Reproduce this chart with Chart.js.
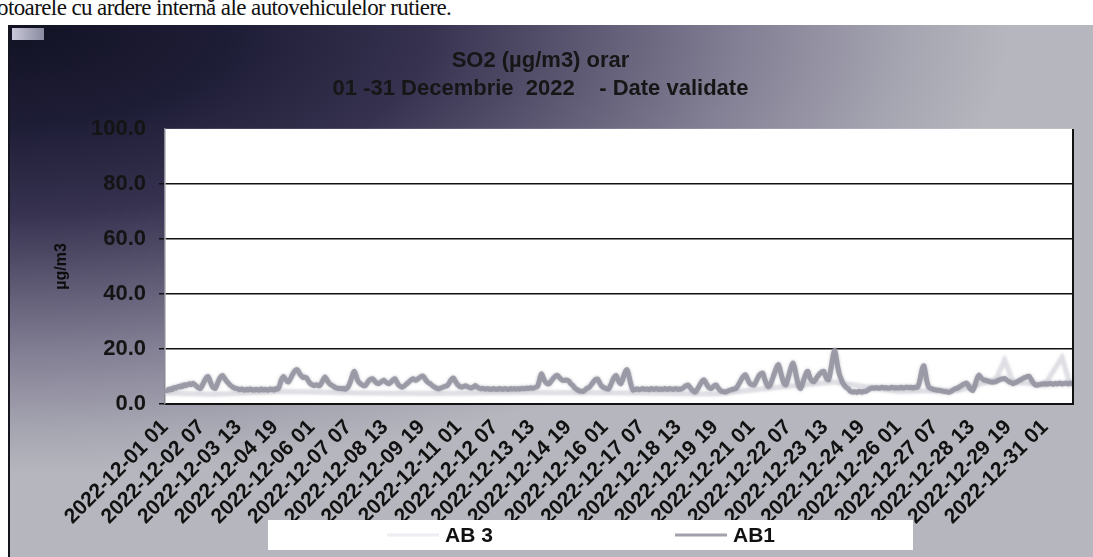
<!DOCTYPE html>
<html>
<head>
<meta charset="utf-8">
<script src="https://cdn.jsdelivr.net/npm/chart.js@4.4.1/dist/chart.umd.min.js"></script>
<style>
  html, body { margin: 0; padding: 0; background: #fff; }
  #page { position: relative; width: 1093px; height: 557px; overflow: hidden; }
  #topText {
    position: absolute; left: -3px; top: -4px;
    font-family: "Liberation Serif", "Times New Roman", serif;
    font-size: 23px; line-height: 24px; letter-spacing: -0.6px; color: #111; white-space: nowrap;
  }
  #frame {
    position: absolute; left: 8px; top: 25px; right: 0; bottom: 0;
    border-left: 2px solid #151520;
    background: radial-gradient(ellipse 1000px 450px at 0% 0%, #121224 0%, #1e1d36 22%, #363250 42%,
      #5e5a74 58%, #858196 74%, #a6a6b2 90%, #b6b6be 100%);
  }
  #blob { position: absolute; left: 12px; top: 28px; width: 32px; height: 12px;
    background: linear-gradient(90deg, #c8c8d8, #8a8aa0); }
  #chartBox { position: absolute; left: 0; top: 0; width: 1093px; height: 557px; }
</style>
</head>
<body>
<div id="page">
  <div id="topText">otoarele cu ardere internă ale autovehiculelor rutiere.</div>
  <div id="frame"></div>
  <div id="blob"></div>
  <div id="chartBox"><canvas id="so2Chart" width="1093" height="557"></canvas></div>
</div>
<script>
const hours = ["01", "02", "03", "04", "05", "06", "07", "08", "09", "10", "11", "12",
  "13", "14", "15", "16", "17", "18", "19", "20", "21", "22", "23", "24"];
const dayCount = 31;
const labelStep = 30;
const yTicks = [0, 20, 40, 60, 80, 100];

// AB1, hourly values, one row per day (01..31 Dec)
const ab1 = [
  5.2, 4.8, 5.0, 5.4, 5.1, 5.6, 5.3, 5.8, 6.0, 5.7, 6.1, 6.4, 6.2, 6.6, 6.3, 6.8, 7.0, 6.6, 6.9, 7.2, 7.4, 7.0, 7.3, 7.5,
  7.2, 6.8, 6.4, 6.0, 5.8, 5.6, 6.3, 7.2, 8.1, 9.0, 9.7, 10.0, 9.4, 8.2, 7.0, 6.2, 5.8, 5.6, 6.4, 7.5, 8.6, 9.5, 10.1, 10.4,
  9.8, 9.2, 8.5, 8.0, 7.5, 7.0, 6.6, 6.3, 6.0, 5.8, 5.7, 5.6, 5.4, 5.2, 5.3, 5.5, 5.2, 5.0, 5.3, 5.4, 5.1, 5.3, 5.5, 5.2,
  5.0, 5.3, 5.1, 5.4, 5.2, 5.0, 5.3, 5.5, 5.2, 5.1, 5.4, 5.3, 5.0, 5.2, 5.5, 5.3, 5.4, 5.1, 5.3, 5.6, 5.4, 5.8, 7.0, 8.6,
  9.5, 10.0, 9.4, 8.7, 8.2, 8.0, 8.6, 9.5, 10.4, 11.2, 11.9, 12.3, 12.5, 12.0, 11.2, 10.5, 10.0, 9.6, 9.8, 9.6, 9.4, 8.6, 7.9, 7.4,
  7.1, 6.9, 6.7, 6.9, 7.0, 6.8, 6.6, 6.9, 7.6, 8.5, 9.3, 9.8, 9.2, 8.4, 7.7, 7.2, 6.9, 6.7, 6.4, 6.1, 5.9, 5.8, 5.6, 5.7,
  5.6, 5.5, 5.7, 5.4, 5.5, 5.8, 6.4, 7.3, 8.5, 9.9, 11.2, 11.9, 10.8, 9.4, 8.3, 7.7, 7.4, 7.0, 6.8, 6.6, 6.7, 7.3, 8.0, 8.6,
  8.9, 9.1, 9.2, 8.7, 8.1, 7.7, 7.5, 7.4, 7.7, 8.1, 8.4, 8.6, 8.3, 7.9, 7.6, 7.4, 7.6, 8.0, 8.5, 8.9, 9.2, 8.6, 7.8, 7.0,
  6.6, 6.3, 6.1, 6.3, 6.6, 7.0, 7.4, 7.8, 8.2, 8.6, 9.0, 9.2, 8.9, 8.6, 8.8, 9.1, 9.5, 9.8, 10.1, 10.2, 9.7, 9.0, 8.4, 7.9,
  7.6, 7.4, 7.0, 6.6, 6.3, 6.0, 5.8, 5.6, 5.5, 5.7, 5.9, 6.0, 6.2, 6.4, 6.5, 6.7, 7.3, 8.0, 8.7, 9.2, 9.4, 8.8, 8.0, 7.3,
  6.8, 6.4, 6.2, 6.1, 6.3, 6.5, 6.6, 6.4, 6.2, 6.0, 5.8, 5.9, 6.1, 6.4, 6.7, 6.3, 6.0, 5.8, 5.6, 5.5, 5.7, 5.6, 5.4, 5.5,
  5.6, 5.4, 5.5, 5.3, 5.5, 5.6, 5.4, 5.3, 5.5, 5.4, 5.6, 5.5, 5.3, 5.4, 5.6, 5.5, 5.4, 5.3, 5.5, 5.6, 5.4, 5.5, 5.6, 5.4,
  5.5, 5.6, 5.4, 5.5, 5.7, 5.6, 5.5, 5.7, 5.8, 5.6, 5.7, 5.9, 5.8, 5.7, 5.9, 6.0, 6.2, 6.5, 8.0, 9.8, 11.0, 10.2, 9.0, 8.2,
  7.7, 7.4, 7.3, 7.7, 8.3, 8.9, 9.5, 10.0, 10.3, 10.4, 10.0, 9.5, 9.0, 8.7, 8.5, 8.6, 8.7, 8.6, 8.5, 8.0, 7.4, 7.0, 6.6, 6.0,
  5.6, 5.3, 5.0, 4.8, 4.7, 4.6, 4.5, 4.8, 5.2, 5.6, 5.8, 6.0, 6.5, 7.1, 7.7, 8.3, 8.8, 9.0, 9.1, 8.3, 7.4, 6.7, 6.3, 6.0,
  5.8, 5.6, 5.5, 5.4, 6.2, 7.2, 8.3, 9.3, 10.0, 10.4, 9.6, 8.5, 7.7, 7.3, 8.2, 9.6, 11.0, 12.0, 12.5, 11.4, 9.5, 7.6, 6.0, 5.0,
  5.2, 5.3, 5.5, 5.4, 5.2, 5.3, 5.5, 5.6, 5.4, 5.3, 5.5, 5.4, 5.2, 5.4, 5.6, 5.5, 5.3, 5.4, 5.6, 5.5, 5.3, 5.4, 5.5, 5.3,
  5.4, 5.6, 5.5, 5.3, 5.4, 5.6, 5.5, 5.4, 5.3, 5.5, 5.6, 5.4, 5.3, 5.5, 5.4, 5.6, 5.8, 6.2, 6.6, 6.8, 6.9, 6.4, 5.8, 5.2,
  4.8, 4.5, 4.4, 4.9, 5.6, 6.4, 7.2, 7.9, 8.5, 8.8, 8.2, 7.4, 6.6, 6.0, 5.7, 5.6, 6.0, 6.5, 6.8, 6.9, 6.3, 5.6, 5.1, 4.7,
  4.6, 4.5, 4.4, 4.4, 4.6, 4.8, 5.0, 5.1, 5.3, 5.4, 5.5, 5.6, 6.1, 6.8, 7.6, 8.4, 9.2, 9.9, 10.4, 10.6, 9.8, 8.8, 7.8, 7.2,
  7.0, 6.9, 6.9, 7.6, 8.5, 9.4, 10.2, 10.8, 11.1, 11.3, 10.2, 8.7, 7.4, 6.6, 6.3, 6.8, 7.8, 9.0, 10.3, 11.6, 12.8, 13.8, 14.3, 13.0,
  11.2, 9.5, 8.0, 7.2, 6.9, 8.0, 9.6, 11.3, 12.9, 14.2, 14.9, 13.6, 11.5, 9.3, 7.4, 6.1, 5.6, 6.5, 7.8, 9.2, 10.5, 11.5, 11.9, 10.6,
  9.3, 8.6, 8.2, 8.1, 8.6, 9.3, 10.0, 10.6, 11.1, 11.5, 11.8, 11.9, 10.8, 9.6, 8.9, 8.8, 10.5, 13.0, 15.8, 18.2, 19.5, 17.6, 14.8, 12.4,
  10.6, 9.4, 8.3, 7.4, 6.7, 6.2, 5.8, 5.6, 5.0, 4.6, 4.4, 4.3, 4.5, 4.4, 4.2, 4.4, 4.6, 4.5, 4.3, 4.4, 4.6, 4.5, 4.7, 5.0,
  5.3, 5.6, 5.8, 5.9, 5.7, 5.8, 6.0, 5.9, 5.7, 5.8, 6.0, 6.1, 5.9, 5.8, 6.0, 5.9, 5.7, 5.8, 6.0, 6.1, 5.9, 5.8, 6.0, 5.9,
  5.8, 5.9, 6.1, 6.0, 5.8, 5.9, 6.0, 6.2, 6.0, 5.9, 6.1, 6.0, 5.8, 6.0, 6.1, 6.0, 6.2, 7.4, 9.3, 11.6, 13.3, 13.9, 12.0, 9.2,
  7.3, 6.2, 5.8, 5.6, 5.5, 5.3, 5.2, 5.1, 5.0, 5.0, 4.9, 4.8, 4.7, 4.6, 4.5, 4.5, 4.4, 4.3, 4.3, 4.5, 4.8, 5.1, 5.4, 5.6,
  5.7, 5.9, 6.2, 6.5, 6.8, 7.1, 7.3, 7.5, 7.6, 7.0, 6.2, 5.5, 5.1, 4.9, 5.8, 7.1, 8.6, 9.8, 10.5, 10.0, 9.4, 9.0, 8.8, 8.6,
  8.6, 8.4, 8.2, 8.1, 8.0, 7.9, 8.0, 8.0, 8.2, 8.4, 8.6, 8.8, 9.0, 9.1, 9.2, 9.3, 9.0, 8.6, 8.3, 8.0, 7.8, 7.6, 7.4, 7.6,
  7.8, 8.0, 8.3, 8.5, 8.8, 9.0, 9.3, 9.5, 9.7, 9.9, 10.0, 10.1, 9.5, 8.8, 8.0, 7.4, 7.0, 6.8, 6.9, 7.0, 7.1, 7.2, 7.3, 7.4,
  7.3, 7.4, 7.2, 7.3, 7.5, 7.4, 7.3, 7.2, 7.4, 7.5, 7.3, 7.4, 7.6, 7.5, 7.3, 7.4, 7.5, 7.6, 7.4, 7.3, 7.5, 7.6, 7.4, 7.5
];

// AB 3 is barely visible in the scan: only the readable points are kept
const ab3Hours  = [0, 40, 100, 160, 220, 300, 380, 450, 500, 548, 600, 650, 680, 687, 694, 720, 734, 740, 743];
const ab3Values = [4.0, 3.5, 4.5, 4.0, 3.8, 4.2, 4.0, 3.6, 6.0, 8.0, 4.5, 5.0, 9.0, 16.0, 8.0, 7.0, 17.0, 8.0, 7.0];

const labels = [];
for (let d = 1; d <= dayCount; d++) {
  hours.forEach(h => labels.push("2022-12-" + String(d).padStart(2, "0") + " " + h));
}

const ab3Data = labels.map(() => null);
ab3Hours.forEach((h, i) => { ab3Data[h] = ab3Values[i]; });

const font = "'Liberation Sans', Arial, sans-serif";
const ab1Color = "rgba(148,148,160,0.88)";
const ab3Color = "rgba(226,226,234,0.6)";

const plotDecor = {
  id: "plotDecor",
  beforeDraw(chart) {
    const { ctx, chartArea: a } = chart;
    ctx.save();
    ctx.fillStyle = "#ffffff";
    ctx.fillRect(a.left, a.top, a.right - a.left, a.bottom - a.top);
    ctx.restore();
  },
  beforeDatasetsDraw(chart) {
    // the scanned line is soft, give it a light blur
    chart.ctx.save();
    chart.ctx.shadowColor = "rgba(150,150,165,0.7)";
    chart.ctx.shadowBlur = 3;
  },
  afterDatasetsDraw(chart) {
    chart.ctx.restore();
  },
  afterDraw(chart) {
    const { ctx, chartArea: a } = chart;
    ctx.save();
    ctx.strokeStyle = "#111";
    ctx.lineWidth = 2;
    ctx.beginPath();
    ctx.moveTo(a.right, a.top);
    ctx.lineTo(a.right, a.bottom);
    ctx.stroke();

    // legend box like the original (white band with two entries)
    ctx.fillStyle = "#ffffff";
    ctx.fillRect(268, 520, 645, 30);
    ctx.font = "bold 21px " + font;
    ctx.textBaseline = "middle";
    ctx.fillStyle = "#111";
    const entries = [
      { text: "AB 3", color: ab3Color, x: 387 },
      { text: "AB1", color: ab1Color, x: 675 }
    ];
    entries.forEach(e => {
      ctx.strokeStyle = e.color;
      ctx.lineWidth = 3;
      ctx.beginPath();
      ctx.moveTo(e.x, 535);
      ctx.lineTo(e.x + 52, 535);
      ctx.stroke();
      ctx.fillText(e.text, e.x + 58, 536);
    });
    ctx.restore();
  }
};

new Chart(document.getElementById("so2Chart"), {
  type: "line",
  data: {
    labels: labels,
    datasets: [
      {
        label: "AB1",
        data: ab1,
        borderColor: ab1Color,
        borderWidth: 5,
        borderJoinStyle: "round",
        pointRadius: 0,
        tension: 0.2
      },
      {
        label: "AB 3",
        data: ab3Data,
        spanGaps: true,
        borderColor: ab3Color,
        borderWidth: 4,
        pointRadius: 0,
        tension: 0
      }
    ]
  },
  options: {
    responsive: false,
    devicePixelRatio: 1,
    animation: false,
    layout: { padding: { top: 22, left: 8, right: 20, bottom: 0 } },
    plugins: {
      legend: { display: false },
      tooltip: { enabled: false },
      title: {
        display: true,
        text: ["SO2 (µg/m3) orar", "01 -31 Decembrie  2022    - Date validate"],
        color: "#161616",
        font: { family: font, size: 22, weight: "bold", lineHeight: 1.27 },
        padding: { top: 25, bottom: 26 }
      }
    },
    scales: {
      x: {
        grid: { display: false, drawTicks: false },
        border: { display: true, color: "#111", width: 2 },
        ticks: {
          autoSkip: false,
          minRotation: 45,
          maxRotation: 45,
          padding: 11,
          color: "#111",
          font: { family: font, size: 21, weight: "bold" },
          callback: (v, i) => (i % labelStep === 0 ? labels[i] : null)
        },
        afterFit: scale => { scale.height = 153; }
      },
      y: {
        min: 0,
        max: 100,
        afterBuildTicks: scale => { scale.ticks = yTicks.map(v => ({ value: v })); },
        grid: {
          color: c => (c.tick && c.tick.value === 100 ? "rgba(0,0,0,0)" : "#111"),
          lineWidth: 1.5,
          tickLength: 6
        },
        border: { display: true, color: "#8a8a92", width: 1.5 },
        ticks: {
          padding: 13,
          color: "#141414",
          font: { family: font, size: 22, weight: "bold" },
          callback: v => v.toFixed(1)
        },
        title: {
          display: true,
          text: "µg/m3",
          color: "#0d0d0d",
          font: { family: font, size: 16, weight: "bold" },
          padding: { top: 44, bottom: 0 }
        },
        afterFit: scale => { scale.width = 157; }
      }
    }
  },
  plugins: [plotDecor]
});
</script>
</body>
</html>
